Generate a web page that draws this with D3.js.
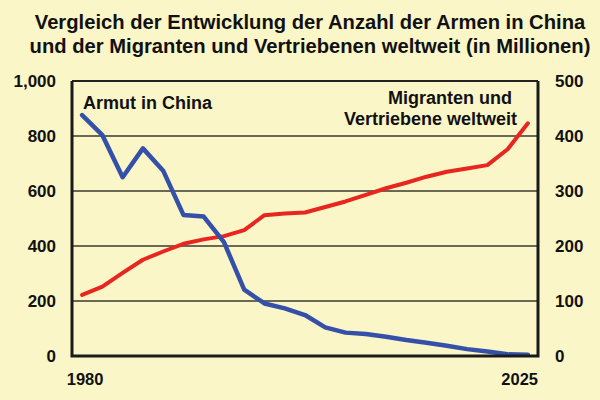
<!DOCTYPE html>
<html>
<head>
<meta charset="utf-8">
<script src="https://cdn.jsdelivr.net/npm/d3@7"></script>
<style>
body { margin: 0; background: #fbf6c8; }
svg { display: block; font-family: "Liberation Sans", Arial, sans-serif; font-weight: bold; }
</style>
</head>
<body>
<svg id="chart" width="600" height="400"></svg>
<script>
// years, every two years
var years = [1980, 1982, 1984, 1986, 1988, 1990, 1992, 1994, 1996, 1998, 2000, 2002,
	2004, 2006, 2008, 2010, 2012, 2014, 2016, 2018, 2020, 2022, 2024];
// poor people in China (left axis, millions)
var armut = [876, 803, 650, 755, 674, 513, 507, 414, 241, 191, 173, 149,
	104, 85, 80, 70, 58, 48, 37, 25, 16, 6, 5];
// migrants and displaced persons worldwide (right axis, millions)
var migranten = [111, 126, 151, 175, 190, 204, 212, 218, 229, 256, 259, 261,
	271, 281, 293, 305, 315, 326, 335, 341, 347, 376, 423];
var leftTicks = [0, 200, 400, 600, 800, 1000];
var rightTicks = [0, 100, 200, 300, 400, 500];
var xTickLabels = [1980, 2025];
var titleLines = ["Vergleich der Entwicklung der Anzahl der Armen in China",
	"und der Migranten und Vertriebenen weltweit (in Millionen)"];

var svg = d3.select("#chart");
var pLeft = 72, pRight = 538, pTop = 81, pBottom = 356;

var x = d3.scaleLinear().domain([1979, 2025]).range([pLeft, pRight]);
var yL = d3.scaleLinear().domain([0, 1000]).range([pBottom, pTop]);
var yR = d3.scaleLinear().domain([0, 500]).range([pBottom, pTop]);

// title
svg.append("g").selectAll("text")
	.data(titleLines)
	.enter().append("text")
		.attr("x", 310)
		.attr("y", function(d, i){ return 29 + i * 24; })
		.attr("text-anchor", "middle")
		.attr("font-size", 20.2)
		.attr("fill", "#111")
		.text(function(d){ return d; });

// gridlines
svg.append("g").selectAll("line")
	.data(leftTicks.slice(1, -1))
	.enter().append("line")
		.attr("x1", pLeft).attr("x2", pRight)
		.attr("y1", function(d){ return yL(d); })
		.attr("y2", function(d){ return yL(d); })
		.attr("stroke", "#3a3a30")
		.attr("stroke-width", 1.5);

// left axis labels
var axL = svg.append("g")
	.attr("transform", "translate(" + pLeft + ",0)")
	.call(d3.axisLeft(yL).tickValues(leftTicks).tickSize(0).tickPadding(16)
		.tickFormat(d3.format(",")));
axL.select(".domain").remove();
axL.selectAll("text").attr("font-size", 17).attr("fill", "#111")
	.attr("font-family", null).attr("dy", "0.35em");

// right axis labels
var axR = svg.append("g")
	.attr("transform", "translate(" + pRight + ",0)")
	.call(d3.axisRight(yR).tickValues(rightTicks).tickSize(0).tickPadding(17));
axR.select(".domain").remove();
axR.selectAll("text").attr("font-size", 17).attr("fill", "#111")
	.attr("font-family", null).attr("dy", "0.35em");

// year labels
svg.append("g").selectAll("text")
	.data(xTickLabels)
	.enter().append("text")
		.attr("x", function(d, i){ return i == 0 ? x(d) + 3 : x(d); })
		.attr("y", 385)
		.attr("text-anchor", function(d, i){ return i == 0 ? "middle" : "end"; })
		.attr("font-size", 16.5)
		.attr("fill", "#111")
		.text(function(d){ return d; });

// lines
var lineL = d3.line()
	.x(function(d, i){ return x(years[i]); })
	.y(function(d){ return yL(d); });
var lineR = d3.line()
	.x(function(d, i){ return x(years[i]); })
	.y(function(d){ return yR(d); });

svg.append("path")
	.attr("d", lineR(migranten))
	.attr("fill", "none")
	.attr("stroke", "#e8261f")
	.attr("stroke-width", 4)
	.attr("stroke-linejoin", "round")
	.attr("stroke-linecap", "round");

svg.append("path")
	.attr("d", lineL(armut))
	.attr("fill", "none")
	.attr("stroke", "#3450a8")
	.attr("stroke-width", 4.5)
	.attr("stroke-linejoin", "round")
	.attr("stroke-linecap", "round");

// frame
svg.append("line")
	.attr("x1", pLeft).attr("x2", pRight).attr("y1", pTop).attr("y2", pTop)
	.attr("stroke", "#222").attr("stroke-width", 2);
svg.append("path")
	.attr("d", "M" + pLeft + "," + pTop + "V" + pBottom + "H" + pRight + "V" + pTop)
	.attr("fill", "none")
	.attr("stroke", "#1a1a1a")
	.attr("stroke-width", 3);

// series labels
svg.append("text")
	.attr("x", 83).attr("y", 109)
	.attr("font-size", 18).attr("fill", "#111")
	.text("Armut in China");
svg.append("text")
	.attr("x", 512).attr("y", 104)
	.attr("text-anchor", "end")
	.attr("font-size", 18).attr("fill", "#111")
	.text("Migranten und");
svg.append("text")
	.attr("x", 517).attr("y", 125)
	.attr("text-anchor", "end")
	.attr("font-size", 18).attr("fill", "#111")
	.text("Vertriebene weltweit");
</script>
</body>
</html>
